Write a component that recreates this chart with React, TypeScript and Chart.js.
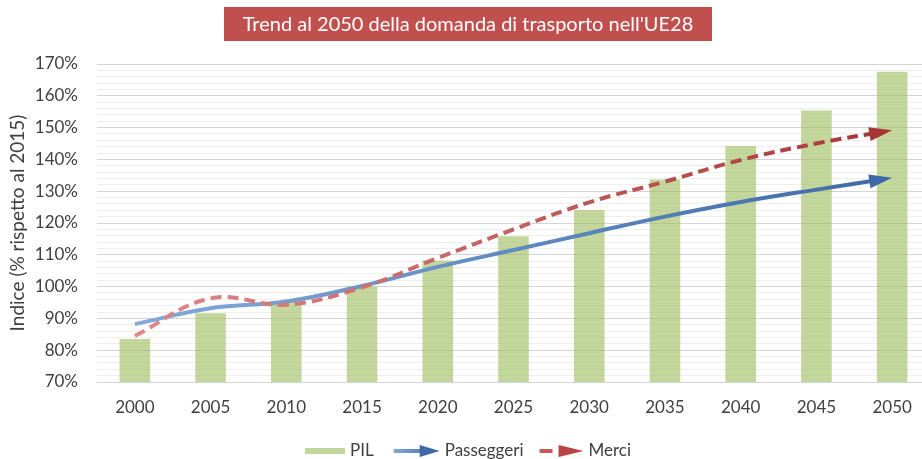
import React, { useEffect, useRef } from 'react';
import { Chart, registerables } from 'chart.js';

Chart.register(...registerables);

// ---- data ----
const years = ['2000', '2005', '2010', '2015', '2020', '2025', '2030', '2035', '2040', '2045', '2050'];
const pil = [83.5, 91.6, 95.3, 100, 108.2, 115.8, 124.1, 133.7, 144.2, 155.4, 167.6];
const passeggeri = [88.2, 93.2, 95.3, 100.2, 106.2, 111.5, 116.8, 122.0, 126.6, 130.5, 134.2];
const merci = [84.5, 96.3, 94.3, 99.8, 109.0, 118.0, 126.5, 133.0, 139.8, 145.0, 149.2];
const seriesNames = ['PIL', 'Passeggeri', 'Merci'];
const yMin = 70;
const yMax = 170;
const yMajorStep = 10;
const yMinorStep = 2;
const titleText = "Trend al 2050 della domanda di trasporto nell'UE28";
const yAxisTitle = 'Indice (% rispetto al 2015)';

// ---- styles ----
const FONT = 'Lato, "Open Sans", sans-serif';
const TEXT = '#404040';
const BAR = 'rgba(155,187,89,0.6)';
const BLUE_L = '#83AADB';
const BLUE_D = '#3D69A6';
const RED_L = '#DE8A8A';
const RED_D = '#A73636';

function lineGradient(ctx: any, light: string, dark: string) {
  const chart = ctx.chart;
  const x = chart.scales && chart.scales.x;
  if (!chart.chartArea || !x) return dark;
  const g = chart.ctx.createLinearGradient(x.getPixelForValue(0), 0, x.getPixelForValue(years.length - 1), 0);
  g.addColorStop(0, light);
  g.addColorStop(1, dark);
  return g;
}

function drawArrow(ctx: CanvasRenderingContext2D, x: number, y: number, ang: number, len: number, hw: number, color: string) {
  ctx.save();
  ctx.translate(x, y);
  ctx.rotate(ang);
  ctx.beginPath();
  ctx.moveTo(0, 0);
  ctx.lineTo(-len, -hw);
  ctx.lineTo(-len, hw);
  ctx.closePath();
  ctx.fillStyle = color;
  ctx.fill();
  ctx.restore();
}

const arrowPlugin = {
  id: 'arrowHeads',
  beforeDatasetDraw(chart: any, args: any) {
    const ds = chart.data.datasets[args.index];
    if (ds.type !== 'line') return;
    const pts = args.meta.data;
    const last = pts[pts.length - 1];
    const ctx = chart.ctx;
    ctx.save();
    ctx.beginPath();
    ctx.rect(0, 0, last.x - 12, chart.height);
    ctx.clip();
  },
  afterDatasetDraw(chart: any, args: any) {
    const ds = chart.data.datasets[args.index];
    if (ds.type !== 'line') return;
    const ctx = chart.ctx;
    ctx.restore();
    const pts = args.meta.data;
    const last = pts[pts.length - 1];
    const prev = pts[pts.length - 2];
    const cx = last.cp1x !== undefined ? last.cp1x : prev.x;
    const cy = last.cp1y !== undefined ? last.cp1y : prev.y;
    const ang = Math.atan2(last.y - cy, last.x - cx);
    drawArrow(ctx, last.x, last.y, ang, 23, 7, ds.arrowColor);
  },
};

const decorPlugin = {
  id: 'decor',
  afterDraw(chart: any) {
    const ctx: CanvasRenderingContext2D = chart.ctx;
    ctx.save();
    // title box
    ctx.fillStyle = '#C0504D';
    ctx.fillRect(224, 7, 488, 34);
    ctx.font = `20px ${FONT}`;
    ctx.fillStyle = '#FFFFFF';
    ctx.textAlign = 'center';
    ctx.textBaseline = 'middle';
    ctx.fillText(titleText, 468, 24.5);

    // legend
    const ly = 451;
    ctx.font = `17px ${FONT}`;
    ctx.textAlign = 'left';
    let x = 305;
    // PIL
    ctx.fillStyle = BAR;
    ctx.fillRect(x, ly - 3, 40, 6);
    x += 45;
    ctx.fillStyle = TEXT;
    ctx.fillText(seriesNames[0], x, ly);
    x += ctx.measureText(seriesNames[0]).width + 20;
    // Passeggeri
    const g = ctx.createLinearGradient(x, 0, x + 45, 0);
    g.addColorStop(0, BLUE_L);
    g.addColorStop(1, BLUE_D);
    ctx.strokeStyle = g;
    ctx.lineWidth = 4;
    ctx.beginPath();
    ctx.moveTo(x, ly);
    ctx.lineTo(x + 30, ly);
    ctx.stroke();
    drawArrow(ctx, x + 46, ly, 0, 20, 6, BLUE_D);
    x += 51;
    ctx.fillStyle = TEXT;
    ctx.fillText(seriesNames[1], x, ly);
    x += ctx.measureText(seriesNames[1]).width + 16;
    // Merci
    ctx.strokeStyle = '#C95757';
    ctx.beginPath();
    ctx.moveTo(x, ly);
    ctx.lineTo(x + 13, ly);
    ctx.stroke();
    drawArrow(ctx, x + 44, ly, 0, 25, 6, '#B84444');
    x += 49;
    ctx.fillStyle = TEXT;
    ctx.fillText(seriesNames[2], x, ly);
    ctx.restore();
  },
};

export default function App() {
  const ref = useRef<HTMLCanvasElement | null>(null);

  useEffect(() => {
    if (!ref.current) return;
    const chart = new Chart(ref.current, {
      type: 'bar',
      data: {
        labels: years,
        datasets: [
          {
            type: 'bar',
            label: seriesNames[0],
            data: pil,
            backgroundColor: BAR,
            borderWidth: 0,
            barPercentage: 0.404,
            categoryPercentage: 1,
            order: 3,
          } as any,
          {
            type: 'line',
            label: seriesNames[1],
            data: passeggeri,
            borderColor: (c: any) => lineGradient(c, BLUE_L, BLUE_D),
            borderWidth: 4,
            pointRadius: 0,
            tension: 0.4,
            fill: false,
            order: 2,
            arrowColor: BLUE_D,
          } as any,
          {
            type: 'line',
            label: seriesNames[2],
            data: merci,
            borderColor: (c: any) => lineGradient(c, RED_L, RED_D),
            borderWidth: 4,
            borderDash: [11, 6],
            pointRadius: 0,
            tension: 0.4,
            fill: false,
            order: 1,
            arrowColor: RED_D,
          } as any,
        ],
      },
      options: {
        responsive: false,
        animation: false,
        layout: { padding: { top: 64, right: 1, bottom: 37, left: 0 } },
        plugins: {
          legend: { display: false },
          title: { display: false },
          tooltip: { enabled: false },
        },
        scales: {
          x: {
            grid: { display: false, drawTicks: false },
            border: { display: false },
            ticks: { color: TEXT, font: { family: FONT, size: 17 }, padding: 15, maxRotation: 0 },
            afterFit: (s: any) => { s.height = 40; },
          },
          y: {
            min: yMin,
            max: yMax,
            border: { display: false },
            grid: {
              drawTicks: false,
              lineWidth: 1,
              color: (c: any) => (c.tick && c.tick.value % yMajorStep === 0 ? '#D4D4D4' : '#EFEFEF'),
            },
            ticks: {
              stepSize: yMinorStep,
              autoSkip: false,
              padding: 19,
              color: TEXT,
              font: { family: FONT, size: 17 },
              callback: (v: any) => (Number(v) % yMajorStep === 0 ? `${v}%` : ''),
            },
            title: {
              display: true,
              text: yAxisTitle,
              color: TEXT,
              font: { family: FONT, size: 19 },
              padding: { top: 6, bottom: 0 },
            },
            afterFit: (s: any) => { s.width = 97; },
          },
        },
      },
      plugins: [arrowPlugin, decorPlugin],
    } as any);
    return () => chart.destroy();
  }, []);

  return (
    <div style={{ position: 'fixed', left: 0, top: 0, width: 922, height: 459, overflow: 'hidden', background: '#fff' }}>
      <canvas ref={ref} width={931} height={459} style={{ width: 931, height: 459, display: 'block' }} />
    </div>
  );
}
